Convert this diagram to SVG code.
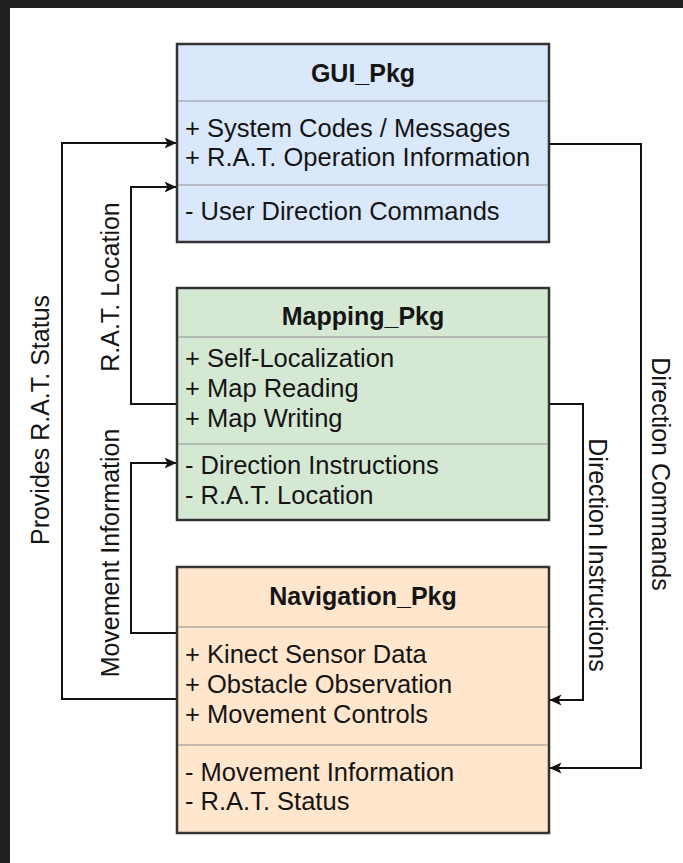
<svg xmlns="http://www.w3.org/2000/svg" width="683" height="863" viewBox="0 0 683 863">
  <style>
    text { font-family: "Liberation Sans", Arial, sans-serif; font-size: 25.5px; fill: #151515; }
    .hdr { font-weight: bold; text-anchor: middle; font-size: 25px; }
    .lbl { text-anchor: middle; font-size: 25px; }
    .box { stroke: #333; stroke-width: 2.5; }
    .div { stroke: #8f8f8f; stroke-width: 1.2; }
    .conn { fill: none; stroke: #111; stroke-width: 2; marker-end: url(#arrow); }
  </style>
  <defs>
    <marker id="arrow" viewBox="0 0 12 12" refX="11.5" refY="6" markerWidth="12" markerHeight="12" markerUnits="userSpaceOnUse" orient="auto">
      <path d="M0,0.5 L12,6 L0,11.5 L3,6 Z" fill="#111"/>
    </marker>
  </defs>
  <rect x="0" y="0" width="683" height="863" fill="#ffffff"/>
  <rect x="0" y="0" width="683" height="8" fill="#212121"/>
  <rect x="0" y="0" width="10" height="863" fill="#212121"/>

  <g id="connectors">
    <path class="conn" d="M177,699 H62 V143 H176"/>
    <path class="conn" d="M177,404 H131 V187 H176"/>
    <path class="conn" d="M177,633 H131 V463 H176"/>
    <path class="conn" d="M549,144 H641 V768 H550"/>
    <path class="conn" d="M549,404 H583 V700 H550"/>
  </g>

  <g id="gui_pkg">
    <rect class="box" x="177" y="44" width="372" height="198" fill="#dae8fc"/>
    <line class="div" x1="178" y1="101" x2="548" y2="101"/>
    <line class="div" x1="178" y1="185" x2="548" y2="185"/>
    <text class="hdr" x="363" y="82">GUI_Pkg</text>
    <text x="185" y="137">+ System Codes / Messages</text>
    <text x="185" y="166">+ R.A.T. Operation Information</text>
    <text x="185" y="220">- User Direction Commands</text>
  </g>

  <g id="mapping_pkg">
    <rect class="box" x="177" y="288" width="372" height="232" fill="#d5e8d4"/>
    <line class="div" x1="178" y1="337" x2="548" y2="337"/>
    <line class="div" x1="178" y1="444" x2="548" y2="444"/>
    <text class="hdr" x="363" y="325">Mapping_Pkg</text>
    <text x="185" y="367">+ Self-Localization</text>
    <text x="185" y="397">+ Map Reading</text>
    <text x="185" y="427">+ Map Writing</text>
    <text x="185" y="474">- Direction Instructions</text>
    <text x="185" y="504">- R.A.T. Location</text>
  </g>

  <g id="navigation_pkg">
    <rect class="box" x="177" y="567" width="372" height="266" fill="#ffe6cc"/>
    <line class="div" x1="178" y1="627" x2="548" y2="627"/>
    <line class="div" x1="178" y1="745" x2="548" y2="745"/>
    <text class="hdr" x="363" y="605">Navigation_Pkg</text>
    <text x="185" y="663">+ Kinect Sensor Data</text>
    <text x="185" y="693">+ Obstacle Observation</text>
    <text x="185" y="723">+ Movement Controls</text>
    <text x="185" y="781">- Movement Information</text>
    <text x="185" y="810">- R.A.T. Status</text>
  </g>

  <g id="labels">
    <text class="lbl" transform="translate(49,420) rotate(-90)">Provides R.A.T. Status</text>
    <text class="lbl" transform="translate(119,287) rotate(-90)">R.A.T. Location</text>
    <text class="lbl" transform="translate(119,553) rotate(-90)">Movement Information</text>
    <text class="lbl" transform="translate(652,474) rotate(90)">Direction Commands</text>
    <text class="lbl" transform="translate(589,555) rotate(90)">Direction Instructions</text>
  </g>
</svg>
